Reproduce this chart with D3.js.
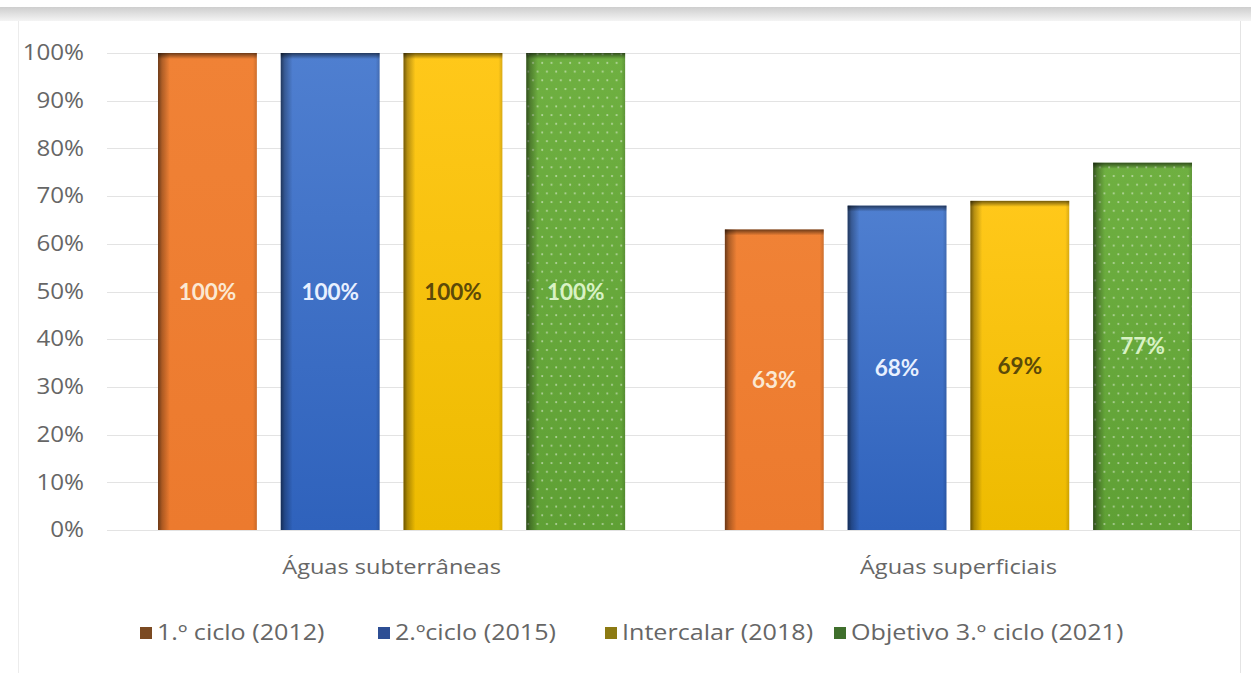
<!DOCTYPE html>
<html><head><meta charset="utf-8">
<script src="https://cdn.jsdelivr.net/npm/d3@7"></script>
<style>
html,body{margin:0;padding:0;background:#fff;}
svg{display:block;}
</style></head>
<body>
<svg id="chart" width="1251" height="673"></svg>
<script>
const categories = ["Águas subterrâneas", "Águas superficiais"];
const seriesNames = ["1.º ciclo (2012)", "2.ºciclo (2015)", "Intercalar (2018)", "Objetivo 3.º ciclo (2021)"];
const ciclo1 = [100, 63];
const ciclo2 = [100, 68];
const intercalar = [100, 69];
const objetivo3 = [100, 77];
const yTicks = [0, 10, 20, 30, 40, 50, 60, 70, 80, 90, 100];

const seriesValues = [ciclo1, ciclo2, intercalar, objetivo3];
const barColors = [["#F08236", "#EC7A2E"], ["#4F7FD0", "#2F62BC"], ["#FFC81A", "#EDBB00"], ["#6FB041", "#5FA035"]];
const labelColors = ["#FBE8D2", "#E8F0FF", "#5C4A08", "#D8F2C4"];
const legendColors = ["#7B4A22", "#2D4E94", "#8C7A12", "#3F6F2C"];

const svg = d3.select("#chart");
const defs = svg.append("defs");
const SX = 1.15;

// background card
const bgGrad = defs.append("linearGradient").attr("id","topband").attr("x1",0).attr("y1",0).attr("x2",0).attr("y2",1);
bgGrad.append("stop").attr("offset","0%").attr("stop-color","#cecece");
bgGrad.append("stop").attr("offset","100%").attr("stop-color","#f4f4f4");
svg.append("rect").attr("x",0).attr("y",0).attr("width",1251).attr("height",673).attr("fill","#fff");
svg.append("rect").attr("x",0).attr("y",7).attr("width",1251).attr("height",14).attr("fill","url(#topband)");
svg.append("line").attr("x1",18.5).attr("x2",18.5).attr("y1",21).attr("y2",673).attr("stroke","#ececec");
svg.append("line").attr("x1",1240.5).attr("x2",1240.5).attr("y1",21).attr("y2",673).attr("stroke","#e4e4e4");

const y = d3.scaleLinear().domain([0, 100]).range([530, 53]);
const x0 = d3.scaleBand().domain(categories).range([107, 1243]).paddingInner(0.176).paddingOuter(0.09);
const x1 = d3.scaleBand().domain(d3.range(seriesNames.length)).range([0, x0.bandwidth()]).paddingInner(0.195).paddingOuter(0);

// gridlines
svg.append("g").selectAll("line").data(yTicks).join("line")
  .attr("x1", 107).attr("x2", 1240)
  .attr("y1", d => Math.round(y(d)) + 0.5).attr("y2", d => Math.round(y(d)) + 0.5)
  .attr("stroke", "#e3e3e3").attr("stroke-width", 1.2);

// y axis labels
const yAxis = d3.axisLeft(y).tickValues(yTicks).tickFormat(d => d + "%").tickSize(0).tickPadding(0);
const yg = svg.append("g").attr("transform", "translate(84,0)").call(yAxis);
yg.select(".domain").remove();
yg.selectAll(".tick").each(function() {
  const t = d3.select(this).attr("transform");
  d3.select(this).attr("transform", t + ` scale(${SX},1)`);
});
yg.selectAll("text").attr("font-family", "'Open Sans', sans-serif").attr("font-size", 21).attr("fill", "#666");

// gradients per series
seriesValues.forEach((s, i) => {
  const g = defs.append("linearGradient").attr("id", "fill" + i).attr("x1", 0).attr("y1", 0).attr("x2", 0).attr("y2", 1);
  g.append("stop").attr("offset", "0%").attr("stop-color", barColors[i][0]);
  g.append("stop").attr("offset", "100%").attr("stop-color", barColors[i][1]);
});
const leftShade = defs.append("linearGradient").attr("id", "leftShade").attr("x1", 0).attr("y1", 0).attr("x2", 1).attr("y2", 0);
leftShade.append("stop").attr("offset", "0%").attr("stop-color", "#000").attr("stop-opacity", 0.55);
leftShade.append("stop").attr("offset", "4%").attr("stop-color", "#000").attr("stop-opacity", 0.28);
leftShade.append("stop").attr("offset", "12%").attr("stop-color", "#000").attr("stop-opacity", 0);
leftShade.append("stop").attr("offset", "96%").attr("stop-color", "#000").attr("stop-opacity", 0);
leftShade.append("stop").attr("offset", "100%").attr("stop-color", "#000").attr("stop-opacity", 0.15);
const topShade = defs.append("linearGradient").attr("id", "topShade").attr("x1", 0).attr("y1", 0).attr("x2", 0).attr("y2", 1);
topShade.append("stop").attr("offset", "0%").attr("stop-color", "#000").attr("stop-opacity", 0.55);
topShade.append("stop").attr("offset", "100%").attr("stop-color", "#000").attr("stop-opacity", 0);

// dotted pattern for green
const pat = defs.append("pattern").attr("id", "dots").attr("patternUnits", "userSpaceOnUse")
  .attr("width", 9.3).attr("height", 17.4);
pat.append("circle").attr("cx", 2).attr("cy", 2).attr("r", 1.05).attr("fill", "#fff").attr("fill-opacity", 0.5);
pat.append("circle").attr("cx", 6.65).attr("cy", 10.7).attr("r", 1.05).attr("fill", "#fff").attr("fill-opacity", 0.5);

const data = [];
categories.forEach((c, ci) => seriesValues.forEach((s, si) => data.push({ c, si, v: s[ci] })));

const bars = svg.append("g").selectAll("g").data(data).join("g")
  .attr("transform", d => `translate(${x0(d.c) + x1(d.si)},0)`);

bars.append("rect").attr("x", 0).attr("y", d => y(d.v)).attr("width", x1.bandwidth())
  .attr("height", d => y(0) - y(d.v)).attr("fill", d => "url(#fill" + d.si + ")");
bars.filter(d => d.si === 3).append("rect").attr("x", 0).attr("y", d => y(d.v)).attr("width", x1.bandwidth())
  .attr("height", d => y(0) - y(d.v)).attr("fill", "url(#dots)");
bars.append("rect").attr("x", 0).attr("y", d => y(d.v)).attr("width", x1.bandwidth())
  .attr("height", d => y(0) - y(d.v)).attr("fill", "url(#leftShade)");
bars.append("rect").attr("x", 0).attr("y", d => y(d.v)).attr("width", x1.bandwidth())
  .attr("height", 6).attr("fill", "url(#topShade)");

bars.append("text")
  .attr("x", x1.bandwidth() / 2)
  .attr("y", d => (y(d.v) + y(0)) / 2)
  .attr("dy", "0.36em")
  .attr("text-anchor", "middle")
  .attr("font-family", "Lato, 'Open Sans', sans-serif")
  .attr("font-weight", "bold")
  .attr("font-size", 22.5)
  .attr("fill", d => labelColors[d.si])
  .text(d => d.v + "%");

// category labels
svg.append("g").selectAll("text").data(categories).join("text")
  .attr("transform", d => `translate(${x0(d) + x0.bandwidth() / 2},567) scale(${SX},1)`)
  .attr("dy", "0.35em")
  .attr("text-anchor", "middle")
  .attr("font-family", "'Open Sans', sans-serif")
  .attr("font-size", 20.5)
  .attr("fill", "#666")
  .text(d => d);

// legend
const legendX = [140, 378, 605, 834];
const lg = svg.append("g").selectAll("g").data(seriesNames).join("g")
  .attr("transform", (d, i) => `translate(${legendX[i]},633)`);
lg.append("rect").attr("x", 0).attr("y", -6).attr("width", 12).attr("height", 12)
  .attr("fill", (d, i) => legendColors[i]);
lg.append("text").attr("transform", `translate(17,0) scale(1.18,1)`).attr("dy", "0.35em")
  .attr("font-family", "'Open Sans', sans-serif").attr("font-size", 21.3).attr("fill", "#666")
  .text(d => d);
</script>
</body></html>
